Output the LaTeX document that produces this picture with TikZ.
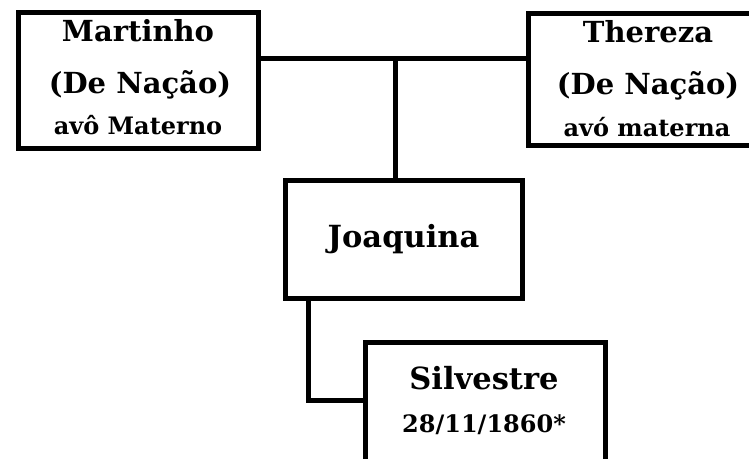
\documentclass[tikz,border=0pt]{standalone}
\usepackage{fontspec}
\setmainfont{DejaVu Serif}
\begin{document}
\begin{tikzpicture}[x=1pt,y=-1pt,
  box/.style={draw=black,line width=5pt,fill=white,inner sep=0pt},
  link/.style={draw=black,line width=5pt},
  big/.style={font=\bfseries\fontsize{29}{29}\selectfont,anchor=base,inner sep=0pt},
  bigger/.style={font=\bfseries\fontsize{30.5}{30.5}\selectfont,anchor=base,inner sep=0pt},
  small/.style={font=\bfseries\fontsize{24}{24}\selectfont,anchor=base,inner sep=0pt}]
\useasboundingbox (0,0) rectangle (749,458);
\begin{scope}
\clip (0,0) rectangle (749,458);
\node[box,minimum width=240pt,minimum height=136pt] (m) at (138,80) {};
\node[box,minimum width=240pt,minimum height=132pt] (t) at (648,79) {};
\node[box,minimum width=237pt,minimum height=118pt] (j) at (403.5,239) {};
\node[box,minimum width=240pt,minimum height=124pt] (s) at (485,404) {};
\coordinate (c) at (395,58);
\coordinate (k) at (308,400);
\draw[link] (m.east |- c) -- (t.west |- c);
\draw[link] (c) -- (c |- j.north);
\draw[link] (k |- j.south) -- (k) -- (s.west |- k);
\end{scope}
\node[big] (m1) at (138,41) {Martinho};
\node[big] (m2) at (140,93) {(De Nação)};
\node[small] (m3) at (138,134) {avô Materno};
\node[big] (t1) at (648,42) {Thereza};
\node[big] (t2) at (648,94) {(De Nação)};
\node[small] (t3) at (647,136) {avó materna};
\node[bigger] (j1) at (403.5,247) {Joaquina};
\node[bigger] (s1) at (484,389) {Silvestre};
\node[small] (s2) at (484,432) {28/11/1860*};
\end{tikzpicture}
\end{document}
